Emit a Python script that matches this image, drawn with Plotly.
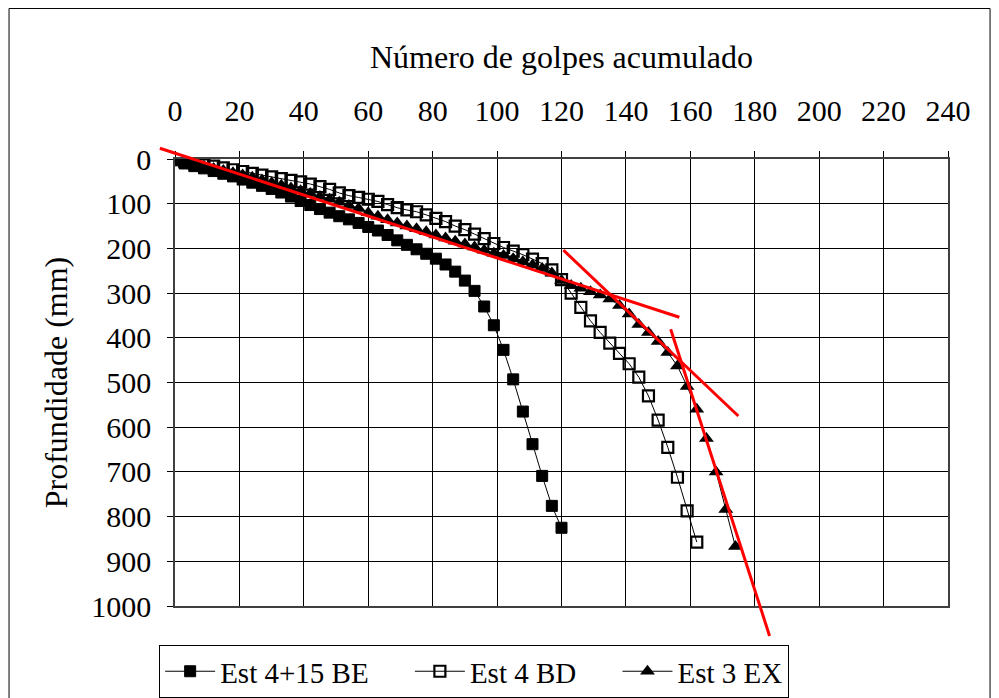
import plotly.graph_objects as go

# ---- data ----
blows_be = [0, 3, 6, 9, 12, 15, 18, 21, 24, 27, 30, 33, 36, 39, 42, 45, 48, 51, 54, 57,
            60, 63, 66, 69, 72, 75, 78, 81, 84, 87, 90, 93, 96, 99, 102, 105, 108, 111, 114, 117, 120]
depth_be = [3, 10, 16, 21, 27, 33, 39, 46, 53, 60, 67, 75, 84, 94, 103, 112, 120, 128, 135, 143,
            152, 160, 170, 182, 192, 202, 212, 223, 236, 252, 272, 295, 330, 372, 427, 493, 565, 638, 709, 776, 825]

blows_bd = [0, 3, 6, 9, 12, 15, 18, 21, 24, 27, 30, 33, 36, 39, 42, 45, 48, 51, 54, 57,
            60, 63, 66, 69, 72, 75, 78, 81, 84, 87, 90, 93, 96, 99, 102, 105, 108, 111, 114, 117,
            120, 123, 126, 129, 132, 135, 138, 141, 144, 147, 150, 153, 156, 159, 162]
depth_bd = [0, 5, 9, 13, 16, 20, 24, 28, 32, 36, 40, 44, 48, 51, 56, 62, 68, 76, 82, 86,
            90, 95, 102, 109, 114, 118, 125, 133, 140, 150, 158, 168, 178, 189, 198, 206, 214, 224, 234, 248,
            270, 300, 332, 362, 388, 412, 435, 458, 488, 530, 584, 645, 712, 787, 857]

blows_ex = [0, 3, 6, 9, 12, 15, 18, 21, 24, 27, 30, 33, 36, 39, 42, 45, 48, 51, 54, 57,
            60, 63, 66, 69, 72, 75, 78, 81, 84, 87, 90, 93, 96, 99, 102, 105, 108, 111, 114, 117,
            120, 123, 126, 129, 132, 135, 138, 141, 144, 147, 150, 153, 156, 159, 162, 165, 168, 171, 174]
depth_ex = [0, 6, 11, 16, 21, 26, 31, 36, 41, 47, 53, 59, 65, 71, 77, 84, 90, 97, 104, 111,
            120, 128, 136, 143, 150, 156, 163, 170, 177, 184, 190, 197, 204, 211, 216, 223, 230, 237, 245, 255,
            272, 283, 289, 297, 304, 313, 328, 347, 370, 388, 408, 433, 463, 509, 560, 625, 700, 784, 867]

series_names = ["Est 4+15 BE", "Est 4 BD", "Est 3 EX"]

# red trend lines (blows, depth) endpoints
trend_x0 = [-4.7, 120.6, 153.9]
trend_y0 = [-24, 204, 381]
trend_x1 = [156.6, 174.9, 184.6]
trend_y1 = [354, 575, 1067]

x_ticks = [0, 20, 40, 60, 80, 100, 120, 140, 160, 180, 200, 220, 240]
y_ticks = [0, 100, 200, 300, 400, 500, 600, 700, 800, 900, 1000]

X_RANGE = [0, 240]
Y_RANGE = [1000, 0]

FONT = "Liberation Serif, Times New Roman, serif"
PAD = "\u00a0" * 5

fig = go.Figure()

fig.add_trace(go.Scatter(
    x=blows_be, y=depth_be, mode="lines+markers", name=series_names[0] + PAD,
    line=dict(color="black", width=1),
    marker=dict(symbol="square", size=11, color="black", line=dict(color="black", width=1)),
))
fig.add_trace(go.Scatter(
    x=blows_bd, y=depth_bd, mode="lines+markers", name=series_names[1] + PAD,
    line=dict(color="black", width=1),
    marker=dict(symbol="square-open", size=11, color="black", line=dict(color="black", width=2.2)),
))
fig.add_trace(go.Scatter(
    x=blows_ex, y=depth_ex, mode="lines+markers", name=series_names[2],
    line=dict(color="black", width=1),
    marker=dict(symbol="triangle-up", size=13, color="black", line=dict(color="black", width=0)),
))


def fx(v):
    return (v - X_RANGE[0]) / (X_RANGE[1] - X_RANGE[0])


def fy(v):
    return (Y_RANGE[0] - v) / (Y_RANGE[0] - Y_RANGE[1])


shapes = []
for a, b, c, d in zip(trend_x0, trend_y0, trend_x1, trend_y1):
    shapes.append(dict(type="line", xref="x domain", yref="y domain",
                       x0=fx(a), y0=fy(b), x1=fx(c), y1=fy(d),
                       line=dict(color="red", width=3), layer="above"))

# outer chart border
shapes.append(dict(type="rect", xref="paper", yref="paper",
                   x0=-0.2147, x1=1.0544, y0=-0.215, y1=1.3367,
                   line=dict(color="black", width=1), layer="below"))

# the page body adds an 8px offset; margins are shifted to compensate
fig.update_layout(
    width=999, height=698,
    margin=dict(l=167, r=59, t=151, b=100, autoexpand=False),
    paper_bgcolor="white", plot_bgcolor="white",
    font=dict(family=FONT, size=30, color="black"),
    showlegend=True,
    legend=dict(orientation="h", x=0.387, xanchor="center", y=-0.087, yanchor="top",
                bordercolor="black", borderwidth=1, font=dict(family=FONT, size=29, color="black"),
                itemwidth=50, tracegroupgap=0, bgcolor="white"),
    shapes=shapes,
    xaxis=dict(range=X_RANGE, side="top", tickvals=x_ticks, ticktext=[str(v) for v in x_ticks],
               showgrid=True, gridcolor="black", gridwidth=1, zeroline=False,
               showline=True, linecolor="#404040", linewidth=1.5, mirror=True,
               ticks="outside", ticklen=6, tickcolor="black", ticklabelstandoff=18,
               automargin=False,
               title=dict(text="Número de golpes acumulado", standoff=16,
                          font=dict(family=FONT, size=32)),
               tickfont=dict(family=FONT, size=30)),
    yaxis=dict(range=Y_RANGE, tickvals=y_ticks, ticktext=[str(v) for v in y_ticks],
               showgrid=True, gridcolor="black", gridwidth=1, zeroline=False,
               showline=True, linecolor="#404040", linewidth=1.5, mirror=True,
               ticks="outside", ticklen=6, tickcolor="black", ticklabelstandoff=10,
               automargin=False,
               title=dict(text="Profundidade (mm)", standoff=14,
                          font=dict(family=FONT, size=32)),
               tickfont=dict(family=FONT, size=30)),
)

fig.write_html("out.html")
